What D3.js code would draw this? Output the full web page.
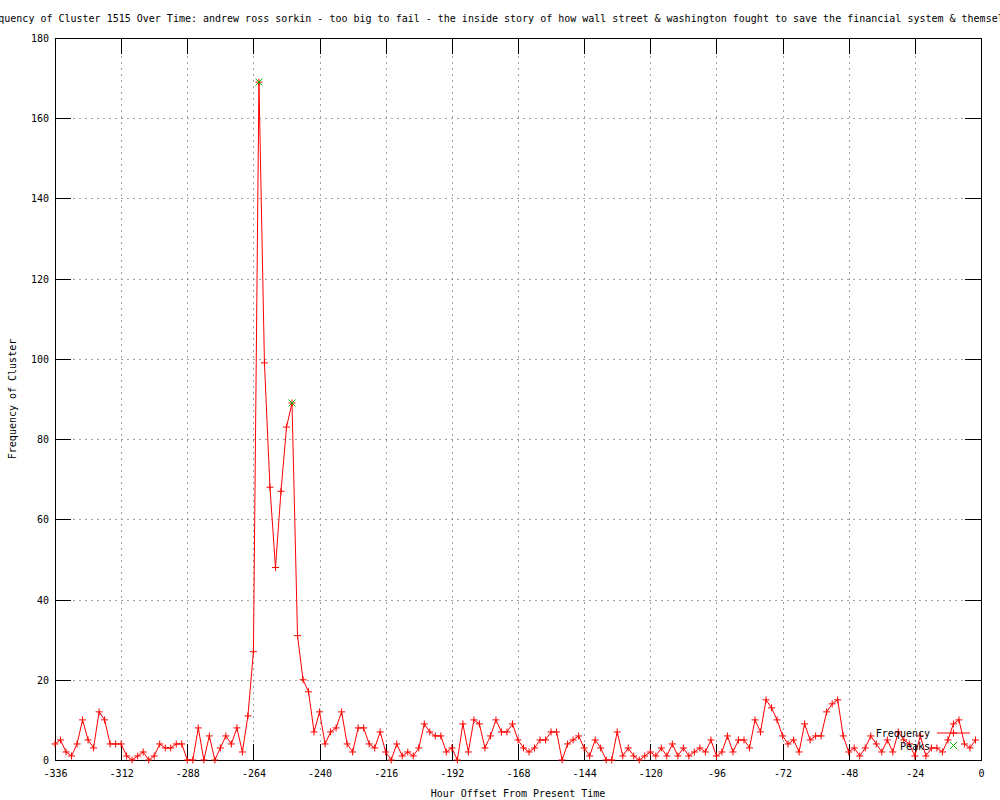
<!DOCTYPE html>
<html>
<head>
<meta charset="utf-8">
<script src="https://cdn.jsdelivr.net/npm/d3@7"></script>
<style>
  html, body { margin: 0; padding: 0; background: #fff; }
  svg { display: block; }
  text { font-family: "DejaVu Sans Mono", "Liberation Mono", monospace; font-size: 10px; fill: #000; }
</style>
</head>
<body>
<script>
const titleText = "Frequency of Cluster 1515 Over Time: andrew ross sorkin - too big to fail - the inside story of how wall street & washington fought to save the financial system & themselves";
const xLabel = "Hour Offset From Present Time";
const yLabel = "Frequency of Cluster";
const seriesNames = ["Frequency", "Peaks"];

const hours = [-336,-334,-332,-330,-328,-326,-324,-322,-320,-318,-316,-314,-312,-310,-308,-306,-304,-302,-300,-298,
  -296,-294,-292,-290,-288,-286,-284,-282,-280,-278,-276,-274,-272,-270,-268,-266,-264,-262,-260,-258,
  -256,-254,-252,-250,-248,-246,-244,-242,-240,-238,-236,-234,-232,-230,-228,-226,-224,-222,-220,-218,
  -216,-214,-212,-210,-208,-206,-204,-202,-200,-198,-196,-194,-192,-190,-188,-186,-184,-182,-180,-178,
  -176,-174,-172,-170,-168,-166,-164,-162,-160,-158,-156,-154,-152,-150,-148,-146,-144,-142,-140,-138,
  -136,-134,-132,-130,-128,-126,-124,-122,-120,-118,-116,-114,-112,-110,-108,-106,-104,-102,-100,-98,
  -96,-94,-92,-90,-88,-86,-84,-82,-80,-78,-76,-74,-72,-70,-68,-66,-64,-62,-60,-58,
  -56,-54,-52,-50,-48,-46,-44,-42,-40,-38,-36,-34,-32,-30,-28,-26,-24,-22,-20,-18,
  -16,-14,-12,-10,-8,-6,-4,-2];

const frequency = [4,5,2,1,4,10,5,3,12,10,
  4,4,4,1,0,1,2,0,1,4,
  3,3,4,4,0,0,8,0,6,0,
  3,6,4,8,2,11,27,169,99,68,
  48,67,83,89,31,20,17,7,12,4,
  7,8,12,4,2,8,8,4,3,7,
  2,0,4,1,2,1,3,9,7,6,
  6,2,3,0,9,2,10,9,3,6,
  10,7,7,9,5,3,2,3,5,5,
  7,7,0,4,5,6,3,1,5,3,
  0,0,7,1,3,1,0,1,2,1,
  3,1,4,1,3,1,2,3,2,5,
  1,2,6,2,5,5,3,10,7,15,
  13,10,6,4,5,2,9,5,6,6,
  12,14,15,6,2,3,1,3,6,4,
  2,5,2,7,5,4,1,6,1,3,
  3,2,5,9,10,4,3,5];

const peakHours = [-262, -250];
const peakValues = [169, 89];

const xTicks = [-336,-312,-288,-264,-240,-216,-192,-168,-144,-120,-96,-72,-48,-24,0];
const yTicks = [0,20,40,60,80,100,120,140,160,180];

(function () {
const W = 1000, H = 800;
const pL = 55, pR = 981, pT = 38, pB = 760;
const tickLen = 16;

const svg = d3.select("body").append("svg").attr("width", W).attr("height", H);

const x = d3.scaleLinear().domain([-336, 0]).range([pL, pR]);
const y = d3.scaleLinear().domain([0, 180]).range([pB, pT]);

// grid
const grid = svg.append("g").attr("stroke", "#a0a0a0").attr("stroke-dasharray", "2,4").attr("shape-rendering", "crispEdges");
xTicks.slice(1, -1).forEach(t => {
  grid.append("line").attr("x1", Math.round(x(t)) + 0.5).attr("x2", Math.round(x(t)) + 0.5)
    .attr("y1", pT).attr("y2", pB);
});
yTicks.slice(1, -1).forEach(t => {
  grid.append("line").attr("y1", Math.round(y(t)) + 0.5).attr("y2", Math.round(y(t)) + 0.5)
    .attr("x1", pL).attr("x2", pR);
});

function styleAxis(g) {
  g.select(".domain").remove();
  g.selectAll(".tick line").attr("stroke", "#000").attr("shape-rendering", "crispEdges");
}
svg.append("g").attr("transform", `translate(0,${pB})`)
  .call(d3.axisBottom(x).tickValues(xTicks).tickSize(-tickLen).tickPadding(0).tickFormat(d => String(d)))
  .call(styleAxis)
  .call(g => g.selectAll(".tick text").attr("y", 17).attr("dy", 0).attr("font-family", null).attr("font-size", null).attr("fill", "#000"));
svg.append("g").attr("transform", `translate(0,${pT})`)
  .call(d3.axisTop(x).tickValues(xTicks).tickSize(-tickLen).tickFormat(""))
  .call(styleAxis);
svg.append("g").attr("transform", `translate(${pL},0)`)
  .call(d3.axisLeft(y).tickValues(yTicks).tickSize(-tickLen).tickPadding(0).tickFormat(d => String(d)))
  .call(styleAxis)
  .call(g => g.selectAll(".tick text").attr("x", -6).attr("dy", "0.35em").attr("font-family", null).attr("font-size", null).attr("fill", "#000"));
svg.append("g").attr("transform", `translate(${pR},0)`)
  .call(d3.axisRight(y).tickValues(yTicks).tickSize(-tickLen).tickFormat(""))
  .call(styleAxis);

// border
svg.append("rect").attr("x", pL + 0.5).attr("y", pT + 0.5)
  .attr("width", pR - pL).attr("height", pB - pT)
  .attr("fill", "none").attr("stroke", "#000").attr("shape-rendering", "crispEdges");

// data
const pts = hours.map((h, i) => [h, frequency[i]]);
const line = d3.line().x(d => x(d[0])).y(d => y(d[1]));
svg.append("path").datum(pts).attr("d", line)
  .attr("fill", "none").attr("stroke", "#ff0000").attr("stroke-width", 1);

const s = 3.5;
function plusPath(cx, cy) { return `M${cx - s},${cy}H${cx + s}M${cx},${cy - s}V${cy + s}`; }
function crossPath(cx, cy) { return `M${cx - s},${cy - s}L${cx + s},${cy + s}M${cx - s},${cy + s}L${cx + s},${cy - s}`; }

svg.append("path")
  .attr("d", pts.map(d => plusPath(x(d[0]), y(d[1]))).join(""))
  .attr("fill", "none").attr("stroke", "#ff0000").attr("stroke-width", 1);

const peaks = peakHours.map((h, i) => [h, peakValues[i]]);
svg.append("path")
  .attr("d", peaks.map(d => crossPath(x(d[0]), y(d[1]))).join(""))
  .attr("fill", "none").attr("stroke", "#00c000").attr("stroke-width", 1);

// legend
const lg = svg.append("g");
lg.append("text").attr("x", 930).attr("y", 733).attr("dy", "0.35em").attr("text-anchor", "end").text(seriesNames[0]);
lg.append("line").attr("x1", 937).attr("x2", 970).attr("y1", 733).attr("y2", 733).attr("stroke", "#ff0000");
lg.append("path").attr("d", plusPath(953.5, 733)).attr("stroke", "#ff0000").attr("fill", "none");
lg.append("text").attr("x", 930).attr("y", 746).attr("dy", "0.35em").attr("text-anchor", "end").text(seriesNames[1]);
lg.append("path").attr("d", crossPath(953.5, 745.5)).attr("stroke", "#00c000").attr("fill", "none");

// titles
svg.append("text").attr("x", 501).attr("y", 22).attr("text-anchor", "middle").text(titleText);
svg.append("text").attr("x", 518).attr("y", 797).attr("text-anchor", "middle").text(xLabel);
svg.append("text").attr("transform", `translate(16,399) rotate(-90)`).attr("text-anchor", "middle").text(yLabel);
})();
</script>
</body>
</html>
